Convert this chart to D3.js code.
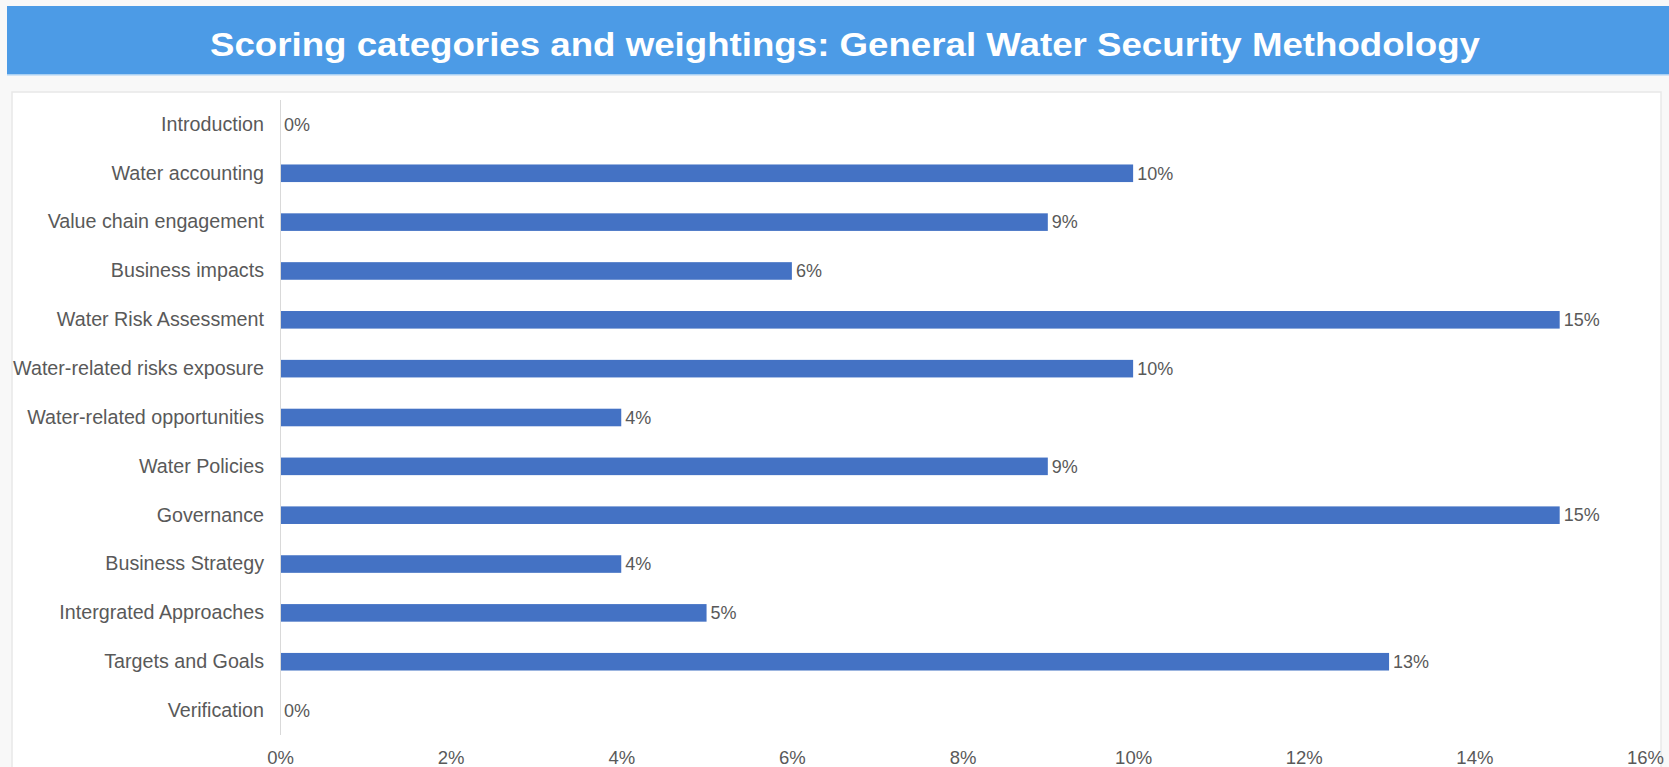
<!DOCTYPE html>
<html>
<head>
<meta charset="utf-8">
<script src="https://cdn.jsdelivr.net/npm/d3@7"></script>
<style>
  html, body { margin: 0; padding: 0; background: #f8f8f8; }
  svg { display: block; }
  text { font-family: "Liberation Sans", Arial, sans-serif; }
</style>
</head>
<body>
<svg id="chart" width="1669" height="767"></svg>
<script>
// Scoring categories and their weightings (percent)
const categories = [
  "Introduction",
  "Water accounting",
  "Value chain engagement",
  "Business impacts",
  "Water Risk Assessment",
  "Water-related risks exposure",
  "Water-related opportunities",
  "Water Policies",
  "Governance",
  "Business Strategy",
  "Intergrated Approaches",
  "Targets and Goals",
  "Verification"
];
const weights = [0, 10, 9, 6, 15, 10, 4, 9, 15, 4, 5, 13, 0];
const xTicks = [0, 2, 4, 6, 8, 10, 12, 14, 16];
const title = "Scoring categories and weightings: General Water Security Methodology";

const W = 1669, H = 767;
const svg = d3.select("#chart");

// chart panel
svg.append("rect")
  .attr("x", 12).attr("y", 92)
  .attr("width", 1649).attr("height", H)
  .attr("fill", "#ffffff")
  .attr("stroke", "#e8e8e8").attr("stroke-width", 1.5);

// title banner
svg.append("rect")
  .attr("x", 7).attr("y", 6)
  .attr("width", W - 7).attr("height", 69)
  .attr("fill", "#4c9be6");
svg.append("rect")
  .attr("x", 7).attr("y", 74)
  .attr("width", W - 7).attr("height", 1.5)
  .attr("fill", "#a9d0f3");
svg.append("text")
  .attr("x", 845).attr("y", 56)
  .attr("text-anchor", "middle")
  .attr("fill", "#ffffff")
  .attr("font-weight", "bold")
  .attr("font-size", 34)
  .attr("textLength", 1270)
  .attr("lengthAdjust", "spacingAndGlyphs")
  .text(title);

// scales
const x = d3.scaleLinear().domain([0, 16]).range([280, 1645]);
const y = d3.scaleBand().domain(categories).range([100, 735]).paddingInner(0.64).paddingOuter(0.32);

// value axis (labels only)
const xAxis = d3.axisBottom(x)
  .tickValues(xTicks)
  .tickFormat(d => d + "%")
  .tickSize(0)
  .tickPadding(0);
const gx = svg.append("g").attr("transform", "translate(0,751)").call(xAxis);
gx.select(".domain").remove();
gx.selectAll("text")
  .attr("font-family", "'Liberation Sans', Arial, sans-serif")
  .attr("font-size", 18.5)
  .attr("fill", "#595959")
  .attr("dy", "0.71em");

// category axis
const yAxis = d3.axisLeft(y).tickSize(0).tickPadding(16);
const gy = svg.append("g").attr("transform", "translate(280,0)").call(yAxis);
gy.select(".domain").attr("stroke", "#d9d9d9").attr("stroke-width", 1)
  .attr("d", "M0.5,100V735");
gy.selectAll("text")
  .attr("font-family", "'Liberation Sans', Arial, sans-serif")
  .attr("font-size", 19.7)
  .attr("fill", "#595959");

// bars
svg.append("g").selectAll("rect")
  .data(categories)
  .join("rect")
  .attr("x", x(0) + 1)
  .attr("y", d => y(d))
  .attr("width", (d, i) => Math.max(0, x(weights[i]) - x(0) - 1))
  .attr("height", y.bandwidth())
  .attr("fill", "#4472c4");

// value labels
svg.append("g").selectAll("text")
  .data(categories)
  .join("text")
  .attr("x", (d, i) => x(weights[i]) + 4)
  .attr("y", d => y(d) + y.bandwidth() / 2)
  .attr("dy", "0.35em")
  .attr("font-size", 18)
  .attr("fill", "#595959")
  .text((d, i) => weights[i] + "%");
</script>
</body>
</html>
